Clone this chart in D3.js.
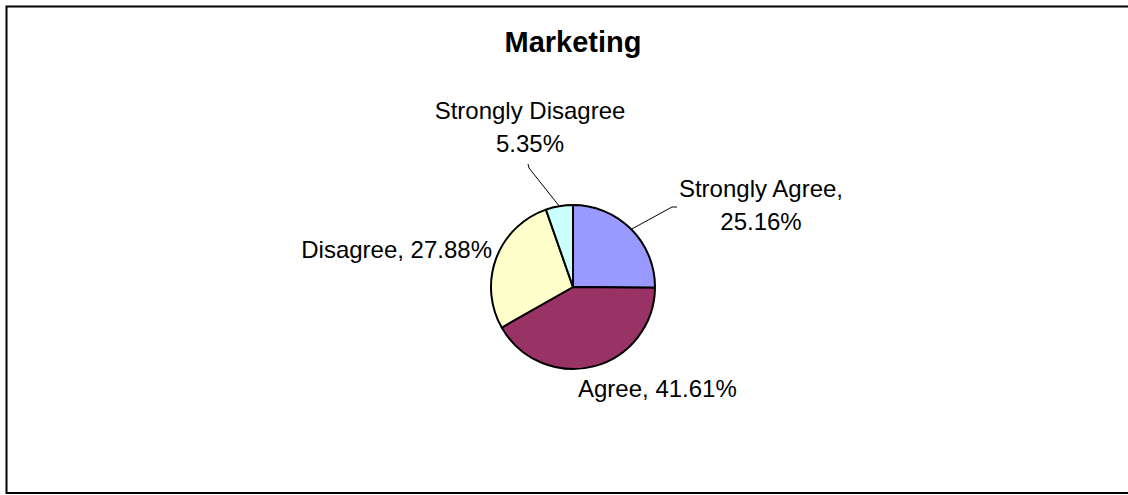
<!DOCTYPE html>
<html>
<head>
<meta charset="utf-8">
<script src="https://cdn.jsdelivr.net/npm/d3@7"></script>
<style>
  html, body { margin: 0; padding: 0; background: #fff; }
  svg { display: block; }
  text { font-family: Arial, "Liberation Sans", sans-serif; fill: #000; }
</style>
</head>
<body>
<svg id="chart" width="1128" height="495"></svg>
<script>
// Survey responses for the Marketing group (percent of respondents)
const title = "Marketing";
const categories = ["Strongly Agree", "Agree", "Disagree", "Strongly Disagree"];
const values = [25.16, 41.61, 27.88, 5.35];
const sliceColors = ["#9999FF", "#993366", "#FFFFCC", "#CCFFFF"];

const W = 1128, H = 495;
const cx = 573, cy = 287, R = 82;

const svg = d3.select("#chart");

// chart frame
svg.append("rect")
  .attr("x", 6.5).attr("y", 6.5)
  .attr("width", 1135).attr("height", 486.5)
  .attr("fill", "#fff").attr("stroke", "#000").attr("stroke-width", 2);

svg.append("text")
  .attr("x", cx).attr("y", 52)
  .attr("text-anchor", "middle")
  .attr("font-size", 29).attr("font-weight", "bold")
  .text(title);

const data = categories.map((c, i) => ({ name: c, value: values[i], color: sliceColors[i] }));

const pie = d3.pie().value(d => d.value).sort(null)
  .startAngle(0).endAngle(2 * Math.PI);
const arcs = pie(data);
const arc = d3.arc().innerRadius(0).outerRadius(R);

const g = svg.append("g").attr("transform", `translate(${cx},${cy})`);
g.selectAll("path.slice")
  .data(arcs)
  .join("path")
  .attr("class", "slice")
  .attr("d", arc)
  .attr("fill", d => d.data.color)
  .attr("stroke", "#000")
  .attr("stroke-width", 2)
  .attr("stroke-linejoin", "round");

// label placement: text anchor point relative to the pie centre, and optional leader elbow
const fmt = v => v.toFixed(2) + "%";
const labelLayout = {
  "Strongly Agree":    { dx: 188, dy: -90, anchor: "middle", lines: d => [d.name + ",", fmt(d.value)], elbow: [[99, -80], [104, -80]] },
  "Agree":             { dx: 5,   dy: 110, anchor: "start",  lines: d => [d.name + ", " + fmt(d.value)] },
  "Disagree":          { dx: -81, dy: -29, anchor: "end",    lines: d => [d.name + ", " + fmt(d.value)] },
  "Strongly Disagree": { dx: -43, dy: -168, anchor: "middle", lines: d => [d.name, fmt(d.value)], elbow: [[-44, -119], [-45, -123]] }
};
const lineGap = 32.5;

arcs.forEach(a => {
  const L = labelLayout[a.data.name];
  const mid = (a.startAngle + a.endAngle) / 2;
  if (L.elbow) {
    const p0 = [R * Math.sin(mid), -R * Math.cos(mid)];
    const pts = [p0, ...L.elbow];
    g.append("path")
      .attr("d", d3.line()(pts))
      .attr("fill", "none")
      .attr("stroke", "#000")
      .attr("stroke-width", 1);
  }
  const t = g.append("text")
    .attr("x", L.dx).attr("y", L.dy)
    .attr("text-anchor", L.anchor)
    .attr("font-size", 24);
  L.lines(a.data).forEach((s, i) => {
    t.append("tspan").attr("x", L.dx).attr("y", L.dy + i * lineGap).text(s);
  });
});
</script>
</body>
</html>
